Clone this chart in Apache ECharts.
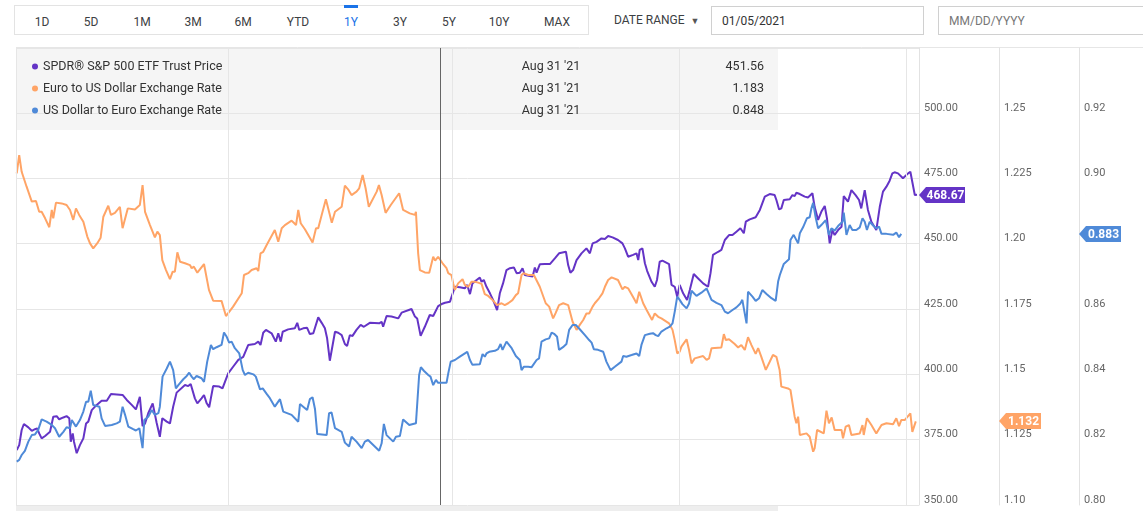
<!DOCTYPE html>
<html>
<head>
<meta charset="utf-8">
<title>SPY vs EUR/USD</title>
<script src="https://cdn.jsdelivr.net/npm/echarts/dist/echarts.min.js"></script>
<style>
  html, body { margin: 0; padding: 0; background: #fff; }
  body { font-family: Roboto, "Noto Sans", sans-serif; width: 1143px; height: 511px; overflow: hidden; position: relative; }
  #main { position: absolute; left: 0; top: 0; width: 1143px; height: 511px; }
  .bar { position: absolute; left: 14px; top: 5px; width: 575px; height: 30px; border: 1px solid #e3e3e3; box-sizing: border-box; }
  .btn { position: absolute; top: 1px; height: 30px; line-height: 30px; font-size: 12px; color: #3c4043; transform: translateX(-50%); }
  .btn.on { color: #1a73e8; }
  .mark { position: absolute; left: 344px; top: 5px; width: 14px; height: 3px; background: #1a73e8; }
  .range { position: absolute; left: 614px; top: 13px; font-size: 12px; color: #3c4043; }
  .range span { font-size: 9px; margin-left: 6px; color: #555; }
  .input { position: absolute; top: 6px; height: 29px; border: 1px solid #d0d0d0; box-sizing: border-box; font-size: 12px; line-height: 29px; padding-left: 10px; }
</style>
</head>
<body>
<div class="bar" id="bar"></div>
<div class="mark"></div>
<div class="range">DATE RANGE<span>&#9660;</span></div>
<div class="input" style="left:711px;width:213px;color:#333;">01/05/2021</div>
<div class="input" style="left:938px;width:215px;color:#777;">MM/DD/YYYY</div>
<div id="main"></div>
<script>
// range buttons
var rangeLabels = ['1D', '5D', '1M', '3M', '6M', 'YTD', '1Y', '3Y', '5Y', '10Y', 'MAX'];
var rangeCenters = [27, 76, 127, 178, 228, 283, 336, 385, 434, 484, 542];
var activeRange = '1Y';

// chart data: days counted from Jan 5 2021
var startDate = '2021-01-05';
var endDate = '2022-01-06';
var quarterLines = ['2021-01-05', '2021-04-01', '2021-07-01', '2021-10-01', '2022-01-01'];
var crosshairDate = '2021-06-26';

var seriesNames = ['SPDR® S&P 500 ETF Trust Price', 'Euro to US Dollar Exchange Rate', 'US Dollar to Euro Exchange Rate'];
var seriesColors = ['#6434c6', '#ffa466', '#4f8ad8'];
var legendDates = ["Aug 31 '21", "Aug 31 '21", "Aug 31 '21"];
var legendValues = ['451.56', '1.183', '0.848'];
var lastValues = [468.67, 1.132, 0.883];

var spyDays = [0.3, 1.3, 2.3, 3.2, 5.0, 6.4, 7.7, 8.6, 9.4, 10.4, 11.8, 13.8, 14.5, 15.1, 16.5, 17.5, 19.2, 20.5, 21.6, 22.2,
  23.0, 23.5, 24.6, 25.9, 27.3, 28.4, 29.3, 30.7, 32.7, 34.7, 36.8, 38.5, 43.2, 44.9, 46.9, 48.6, 50.2, 51.3, 52.3, 53.6,
  55.4, 57.0, 58.3, 59.3, 61.1, 62.4, 63.7, 65.1, 68.5, 69.8, 70.8, 71.6, 72.5, 73.5, 75.2, 76.2, 77.3, 78.3, 79.9, 82.4,
  83.7, 86.0, 88.0, 90.1, 92.1, 94.1, 96.8, 98.2, 99.1, 100.2, 101.3, 103.6, 104.3, 105.3, 106.3, 107.3, 108.1, 110.3, 113.0, 114.0,
  114.8, 116.4, 118.0, 119.1, 120.5, 122.5, 123.9, 125.2, 126.1, 127.2, 129.3, 130.6, 132.0, 133.3, 134.2, 135.3, 136.4, 138.0, 139.7, 141.0,
  143.4, 147.2, 148.2, 148.8, 150.2, 152.2, 154.9, 156.3, 160.3, 161.7, 162.6, 164.0, 165.7, 167.7, 169.1, 171.1, 172.5, 173.9, 175.9, 177.9,
  179.9, 181.9, 182.9, 184.0, 185.0, 186.7, 188.0, 188.7, 189.6, 190.7, 192.1, 193.4, 195.0, 196.1, 197.4, 198.1, 198.8, 200.2, 201.8, 202.9,
  204.2, 205.3, 206.2, 208.3, 209.4, 210.3, 211.0, 212.3, 214.3, 216.4, 218.4, 220.1, 222.9, 223.8, 224.7, 225.8, 227.2, 229.2, 231.2, 232.6,
  233.7, 235.3, 237.3, 238.7, 240.0, 241.8, 244.0, 245.8, 246.8, 248.1, 250.1, 251.5, 252.2, 252.8, 253.9, 254.9, 255.8, 257.6, 258.9, 259.8,
  260.9, 262.0, 264.7, 265.7, 267.0, 268.0, 269.0, 270.4, 272.0, 273.1, 274.7, 276.5, 278.5, 280.5, 281.5, 282.5, 284.6, 285.9, 287.3, 289.0,
  290.4, 292.0, 293.6, 295.0, 295.8, 297.4, 299.8, 301.5, 303.5, 305.5, 307.5, 308.2, 309.3, 310.2, 311.2, 313.6, 314.7, 315.6, 316.3, 317.7,
  319.7, 321.0, 322.8, 323.7, 325.1, 326.4, 327.8, 328.7, 329.8, 330.9, 331.8, 333.2, 334.6, 335.5, 336.3, 337.2, 338.6, 340.3, 341.7, 342.6,
  344.0, 345.3, 346.7, 348.7, 350.1, 351.4, 352.8, 354.1, 355.2, 356.1, 357.5, 358.2, 359.5, 361.6, 362.5, 363.3, 364.3, 365.2];
var spyPrice = [371.0, 372.9, 378.7, 381.0, 379.7, 378.4, 379.0, 379.3, 377.4, 375.5, 376.4, 378.0, 378.7, 383.8, 384.0, 382.8, 383.5, 384.0, 383.2, 374.2,
  377.4, 374.2, 369.8, 372.9, 375.5, 381.2, 381.9, 386.3, 388.3, 389.9, 389.9, 392.5, 392.1, 390.2, 388.3, 386.6, 391.4, 380.2, 381.2, 385.1,
  388.9, 381.5, 376.1, 383.2, 381.9, 381.2, 387.6, 393.0, 395.9, 395.5, 396.3, 395.9, 390.8, 388.9, 390.8, 392.1, 388.9, 387.4, 395.5, 395.3,
  394.6, 400.4, 402.9, 405.5, 406.7, 411.2, 411.6, 412.5, 411.2, 415.9, 417.0, 415.7, 415.0, 412.5, 415.7, 412.5, 416.3, 417.2, 417.6, 419.7,
  417.0, 417.6, 417.8, 415.4, 415.7, 421.8, 419.7, 417.6, 413.8, 405.2, 416.3, 415.9, 415.0, 411.6, 410.8, 415.0, 414.7, 417.0, 418.9, 418.2,
  419.7, 419.5, 420.1, 418.2, 422.3, 422.1, 421.4, 423.6, 425.0, 422.1, 421.4, 414.7, 418.2, 422.7, 422.3, 426.1, 426.9, 427.4, 427.8, 433.5,
  433.3, 432.9, 434.2, 430.7, 434.8, 436.1, 437.0, 435.4, 436.1, 433.5, 431.0, 428.4, 424.6, 431.0, 434.8, 435.1, 439.9, 440.6, 440.9, 438.7,
  438.9, 440.6, 438.0, 437.6, 437.4, 440.9, 438.9, 442.1, 442.2, 442.2, 444.4, 446.3, 446.9, 441.8, 438.9, 439.9, 443.7, 446.3, 448.2, 446.3,
  450.1, 450.7, 452.0, 451.8, 452.9, 452.4, 451.4, 450.1, 448.2, 445.0, 445.7, 446.3, 443.7, 447.6, 448.2, 442.5, 439.6, 435.4, 433.5, 436.1,
  443.1, 443.5, 442.2, 434.2, 433.5, 429.7, 434.2, 431.0, 428.4, 432.3, 438.4, 436.7, 434.8, 433.5, 438.7, 445.7, 446.9, 447.6, 451.4, 453.3,
  453.3, 454.6, 455.9, 454.0, 458.4, 459.3, 460.1, 462.9, 468.0, 469.0, 468.6, 466.7, 463.1, 463.5, 466.7, 467.0, 468.6, 468.2, 469.5, 469.0,
  468.0, 467.7, 469.3, 464.1, 459.1, 462.2, 464.4, 459.7, 450.1, 455.2, 453.3, 455.2, 456.5, 468.2, 468.6, 466.1, 470.5, 468.6, 466.7, 463.5,
  470.5, 462.9, 458.4, 455.2, 464.1, 469.9, 471.8, 474.1, 476.9, 477.3, 476.9, 477.2, 475.0, 476.9, 477.5, 476.9, 468.6, 468.67];

var eurDays = [0.3, 1.3, 2.3, 4.3, 6.4, 8.1, 9.4, 10.4, 11.8, 13.5, 14.5, 15.1, 16.2, 18.5, 20.5, 21.9, 23.2, 24.3, 25.6, 27.3,
  28.9, 30.0, 31.3, 32.9, 34.3, 35.4, 37.4, 38.5, 40.1, 42.1, 43.2, 45.3, 48.2, 50.2, 51.3, 52.3, 54.3, 56.3, 57.3, 58.3,
  59.3, 60.8, 62.4, 63.5, 64.4, 65.4, 66.5, 68.5, 70.5, 71.2, 72.1, 73.5, 76.2, 78.2, 79.9, 83.3, 85.1, 88.0, 91.5, 92.4,
  94.1, 95.5, 97.5, 98.2, 99.1, 100.2, 101.6, 104.9, 106.3, 107.7, 109.0, 111.7, 112.6, 113.5, 114.4, 115.4, 117.1, 118.8, 120.2, 121.6,
  122.5, 123.9, 125.6, 126.3, 128.0, 129.3, 132.0, 133.3, 134.6, 136.0, 138.0, 139.1, 140.5, 141.7, 143.0, 146.2, 147.1, 148.2, 148.8, 149.8,
  151.9, 155.3, 156.9, 159.6, 161.7, 162.1, 163.0, 163.7, 165.7, 167.5, 168.0, 169.1, 169.9, 171.1, 172.9, 174.5, 175.2, 176.5, 177.2, 177.9,
  179.2, 181.0, 181.9, 183.3, 184.6, 186.0, 187.3, 188.7, 190.0, 191.4, 193.4, 195.0, 196.8, 198.1, 199.5, 201.2, 202.6, 203.5, 204.9, 205.8,
  207.6, 209.9, 212.3, 214.7, 216.1, 217.7, 218.8, 220.1, 221.8, 223.8, 225.6, 227.2, 228.5, 229.9, 231.2, 232.3, 233.7, 234.6, 236.3, 237.7,
  238.7, 240.0, 241.4, 244.0, 245.8, 246.8, 248.1, 250.8, 251.5, 252.6, 253.2, 254.2, 255.6, 257.8, 258.9, 260.3, 261.6, 264.7, 266.1, 267.0,
  268.0, 269.0, 269.7, 271.8, 272.8, 273.8, 275.1, 278.5, 279.9, 280.9, 281.9, 285.9, 286.9, 287.7, 289.0, 291.3, 292.7, 294.0, 295.4, 296.7,
  298.1, 299.8, 300.8, 302.1, 303.9, 305.5, 306.8, 308.2, 309.5, 310.2, 312.9, 313.9, 315.6, 316.3, 317.0, 317.7, 320.4, 321.7, 323.1, 323.7,
  324.7, 327.4, 328.5, 329.5, 330.6, 331.8, 334.6, 335.2, 336.3, 337.6, 338.6, 342.0, 343.1, 343.6, 344.9, 346.7, 348.7, 350.8, 352.8, 355.5,
  356.8, 357.9, 358.8, 360.2, 362.5, 363.3, 364.7];
var eurRate = [1.2269, 1.2339, 1.2275, 1.2218, 1.2161, 1.2163, 1.2122, 1.2122, 1.2097, 1.2063, 1.2129, 1.2097, 1.2157, 1.2154, 1.2148, 1.2129, 1.2091, 1.2135, 1.2110, 1.2084,
  1.2027, 1.2001, 1.1982, 1.2001, 1.2023, 1.2103, 1.2145, 1.2110, 1.2118, 1.2141, 1.2059, 1.2135, 1.2131, 1.2148, 1.2224, 1.2122, 1.2071, 1.2024, 1.2046, 1.2033,
  1.1937, 1.1899, 1.1864, 1.1893, 1.1893, 1.1967, 1.1931, 1.1925, 1.1918, 1.1906, 1.1912, 1.1889, 1.1922, 1.1823, 1.1782, 1.1781, 1.1723, 1.1759, 1.1810, 1.1880,
  1.1887, 1.1899, 1.1906, 1.1895, 1.1963, 1.1969, 1.1995, 1.2052, 1.2007, 1.2059, 1.2071, 1.2088, 1.2080, 1.2071, 1.2129, 1.2078, 1.2055, 1.2027, 1.2004, 1.2059,
  1.2059, 1.2110, 1.2170, 1.2167, 1.2080, 1.2122, 1.2141, 1.2222, 1.2208, 1.2186, 1.2199, 1.2212, 1.2263, 1.2212, 1.2141, 1.2199, 1.2224, 1.2186, 1.2186, 1.2118,
  1.2148, 1.2193, 1.2129, 1.2116, 1.2110, 1.2122, 1.1963, 1.1899, 1.1890, 1.1889, 1.1893, 1.1950, 1.1935, 1.1950, 1.1925, 1.1906, 1.1887, 1.1880, 1.1848, 1.1823,
  1.1848, 1.1864, 1.1842, 1.1835, 1.1854, 1.1854, 1.1851, 1.1846, 1.1807, 1.1800, 1.1782, 1.1765, 1.1772, 1.1765, 1.1772, 1.1784, 1.1803, 1.1810, 1.1880, 1.1887,
  1.1880, 1.1880, 1.1835, 1.1772, 1.1759, 1.1714, 1.1736, 1.1765, 1.1772, 1.1765, 1.1701, 1.1670, 1.1689, 1.1708, 1.1733, 1.1733, 1.1759, 1.1772, 1.1791, 1.1810,
  1.1835, 1.1861, 1.1871, 1.1861, 1.1825, 1.1835, 1.1829, 1.1784, 1.1772, 1.1816, 1.1812, 1.1772, 1.1746, 1.1708, 1.1733, 1.1720, 1.1714, 1.1695, 1.1670, 1.1631,
  1.1580, 1.1587, 1.1606, 1.1634, 1.1593, 1.1542, 1.1561, 1.1570, 1.1555, 1.1561, 1.1600, 1.1603, 1.1654, 1.1631, 1.1634, 1.1616, 1.1603, 1.1612, 1.1593, 1.1642,
  1.1612, 1.1578, 1.1600, 1.1567, 1.1517, 1.1548, 1.1574, 1.1567, 1.1517, 1.1453, 1.1446, 1.1440, 1.1338, 1.1313, 1.1338, 1.1268, 1.1274, 1.1261, 1.1204, 1.1217,
  1.1287, 1.1274, 1.1361, 1.1313, 1.1335, 1.1287, 1.1287, 1.1255, 1.1300, 1.1306, 1.1268, 1.1274, 1.1306, 1.1268, 1.1332, 1.1306, 1.1274, 1.1306, 1.1313, 1.1309,
  1.1332, 1.1302, 1.1325, 1.1325, 1.1351, 1.1280, 1.1320];

var usdDays = [0.3, 1.3, 2.3, 3.6, 5.0, 6.4, 7.7, 9.0, 10.4, 12.4, 14.5, 15.8, 17.5, 19.2, 20.5, 21.9, 22.6, 24.3, 25.9, 27.3,
  28.4, 29.3, 30.3, 31.3, 33.8, 34.7, 36.1, 38.8, 40.8, 42.1, 43.2, 44.2, 45.5, 47.5, 48.6, 50.0, 51.3, 52.0, 53.6, 55.0,
  56.3, 57.7, 58.3, 59.4, 61.1, 62.4, 63.7, 64.8, 65.8, 67.8, 69.2, 70.2, 71.2, 72.1, 73.2, 75.2, 76.2, 77.5, 79.0, 79.9,
  81.3, 83.3, 84.3, 85.4, 86.4, 87.4, 88.7, 90.5, 91.9, 92.8, 94.1, 96.2, 97.2, 98.9, 100.0, 101.6, 102.9, 104.9, 107.0, 108.3,
  111.7, 112.4, 114.4, 115.1, 116.4, 118.0, 119.1, 120.2, 121.2, 122.1, 125.9, 126.9, 127.9, 129.3, 132.0, 133.3, 135.0, 136.0, 138.0, 140.1,
  141.4, 142.7, 147.2, 148.2, 149.1, 150.2, 152.9, 154.0, 155.6, 156.9, 159.4, 162.1, 163.4, 164.1, 165.3, 167.1, 168.0, 169.1, 170.2, 171.1,
  172.5, 174.5, 175.2, 176.2, 177.9, 179.9, 182.9, 184.0, 185.0, 188.0, 189.1, 190.0, 190.7, 191.8, 194.1, 195.4, 196.4, 197.2, 198.8, 200.9,
  202.6, 204.2, 204.9, 205.8, 207.6, 209.0, 211.0, 212.0, 213.0, 214.7, 216.1, 217.1, 218.1, 219.3, 220.1, 222.0, 223.1, 224.2, 225.6, 226.9,
  228.5, 230.6, 232.3, 233.3, 234.2, 235.9, 238.0, 239.3, 241.0, 242.7, 245.4, 246.1, 247.4, 249.5, 251.5, 252.6, 253.5, 254.9, 256.9, 258.2,
  259.3, 260.3, 261.6, 263.7, 265.0, 266.1, 267.0, 268.0, 269.0, 270.1, 271.8, 272.8, 273.8, 275.8, 277.8, 279.9, 281.9, 283.9, 285.9, 287.3,
  288.6, 290.4, 292.0, 293.6, 294.4, 295.0, 296.1, 296.7, 298.5, 299.8, 301.2, 302.5, 304.2, 306.2, 307.9, 308.9, 309.6, 311.2, 313.3, 313.9,
  315.2, 316.0, 317.0, 317.7, 319.0, 320.6, 321.7, 322.4, 323.1, 324.1, 325.1, 326.4, 328.2, 329.5, 330.5, 331.8, 333.2, 335.0, 335.5, 336.6,
  337.9, 339.0, 340.6, 342.0, 343.1, 344.0, 344.9, 346.0, 347.6, 348.7, 349.8, 350.8, 352.8, 355.5, 356.8, 357.9, 358.8];
var usdRate = [0.8133, 0.8138, 0.8153, 0.8166, 0.8194, 0.8214, 0.8216, 0.8230, 0.8262, 0.8255, 0.8245, 0.8235, 0.8209, 0.8224, 0.8238, 0.8235, 0.8260, 0.8240, 0.8260, 0.8286,
  0.8316, 0.8316, 0.8350, 0.8306, 0.8301, 0.8265, 0.8242, 0.8245, 0.8250, 0.8255, 0.8301, 0.8276, 0.8240, 0.8232, 0.8228, 0.8235, 0.8174, 0.8260, 0.8270, 0.8291,
  0.8276, 0.8281, 0.8301, 0.8393, 0.8418, 0.8439, 0.8413, 0.8357, 0.8367, 0.8385, 0.8395, 0.8405, 0.8393, 0.8385, 0.8395, 0.8388, 0.8377, 0.8439, 0.8490, 0.8477,
  0.8483, 0.8490, 0.8528, 0.8515, 0.8497, 0.8500, 0.8480, 0.8464, 0.8413, 0.8398, 0.8405, 0.8400, 0.8393, 0.8354, 0.8357, 0.8340, 0.8327, 0.8301, 0.8324, 0.8286,
  0.8276, 0.8279, 0.8255, 0.8309, 0.8301, 0.8291, 0.8324, 0.8330, 0.8293, 0.8217, 0.8214, 0.8281, 0.8283, 0.8235, 0.8224, 0.8191, 0.8179, 0.8209, 0.8194, 0.8174,
  0.8194, 0.8199, 0.8166, 0.8189, 0.8248, 0.8214, 0.8194, 0.8209, 0.8211, 0.8262, 0.8245, 0.8250, 0.8398, 0.8422, 0.8411, 0.8398, 0.8393, 0.8367, 0.8383, 0.8374,
  0.8374, 0.8374, 0.8403, 0.8439, 0.8444, 0.8454, 0.8469, 0.8444, 0.8429, 0.8431, 0.8462, 0.8454, 0.8464, 0.8469, 0.8472, 0.8477, 0.8493, 0.8475, 0.8500, 0.8480,
  0.8456, 0.8444, 0.8413, 0.8423, 0.8423, 0.8422, 0.8444, 0.8449, 0.8500, 0.8507, 0.8510, 0.8528, 0.8524, 0.8515, 0.8475, 0.8485, 0.8493, 0.8536, 0.8551, 0.8551,
  0.8538, 0.8520, 0.8505, 0.8497, 0.8477, 0.8475, 0.8469, 0.8439, 0.8413, 0.8423, 0.8439, 0.8456, 0.8454, 0.8459, 0.8464, 0.8456, 0.8490, 0.8520, 0.8524, 0.8526,
  0.8520, 0.8517, 0.8531, 0.8541, 0.8546, 0.8556, 0.8592, 0.8638, 0.8628, 0.8615, 0.8602, 0.8617, 0.8656, 0.8640, 0.8650, 0.8663, 0.8628, 0.8619, 0.8612, 0.8592,
  0.8587, 0.8597, 0.8605, 0.8617, 0.8628, 0.8602, 0.8556, 0.8653, 0.8638, 0.8625, 0.8633, 0.8658, 0.8646, 0.8633, 0.8625, 0.8684, 0.8704, 0.8738, 0.8752, 0.8811,
  0.8827, 0.8830, 0.8801, 0.8832, 0.8850, 0.8878, 0.8881, 0.8908, 0.8925, 0.8881, 0.8847, 0.8857, 0.8872, 0.8827, 0.8847, 0.8840, 0.8854, 0.8867, 0.8895, 0.8827,
  0.8857, 0.8842, 0.8842, 0.8850, 0.8878, 0.8867, 0.8842, 0.8867, 0.8854, 0.8847, 0.8852, 0.8830, 0.8830, 0.8827, 0.8834, 0.8820, 0.8830];

// right axes: [min, max, interval]
var axisRanges = [[350, 524.87, 25], [1.10, 1.27487, 0.025], [0.80, 0.9399, 0.02]];
var axisTopTick = [500, 1.25, 0.92];

// --- toolbar buttons
var bar = document.getElementById('bar');
rangeLabels.forEach(function (t, i) {
    var s = document.createElement('div');
    s.className = 'btn' + (t === activeRange ? ' on' : '');
    s.style.left = rangeCenters[i] + 'px';
    s.textContent = t;
    bar.appendChild(s);
});

var DAY = 86400000;
var t0 = echarts.time.parse(startDate).getTime();

function toSeries(days, vals) {
    return days.map(function (d, i) { return [t0 + d * DAY, vals[i]]; });
}

function fmt2(v) { return v.toFixed(2); }
function fmtEur(v) {
    var s = v.toFixed(3);
    return s.charAt(s.length - 1) === '0' ? s.slice(0, -1) : s;
}
var formatters = [fmt2, fmtEur, fmt2];

var FONT = 'Roboto, "Noto Sans", sans-serif';

function yAxisCfg(i) {
    var r = axisRanges[i];
    return {
        type: 'value',
        position: 'right',
        offset: i * 80,
        min: r[0],
        max: r[1],
        interval: r[2],
        axisLine: { show: true, lineStyle: { color: '#e2e2e2' } },
        axisTick: { show: false },
        splitLine: { show: i === 0, lineStyle: { color: '#e6e6e6' } },
        axisLabel: {
            margin: 5,
            verticalAlign: 'bottom',
            lineHeight: 10,
            color: '#666',
            fontSize: 11,
            fontFamily: FONT,
            formatter: function (v) {
                if (v > axisTopTick[i] + 1e-9) return '';
                return formatters[i](v);
            }
        }
    };
}

var myChart = echarts.init(document.getElementById('main'));

// legend panel drawn as graphic text
var graphics = [
    { type: 'rect', id: 'panel', z: -10, shape: { x: 16, y: 48, width: 762, height: 82 }, style: { fill: '#f5f5f5' } },
    { type: 'rect', id: 'foot', z: -10, shape: { x: 16, y: 506, width: 762, height: 5 }, style: { fill: '#eeeeee' } },
    { type: 'line', id: 'topline', shape: { x1: 16, y1: 47.5, x2: 1143, y2: 47.5 }, style: { stroke: '#e6e6e6', lineWidth: 1 } }
];
seriesNames.forEach(function (name, i) {
    var y = 66.5 + i * 22;
    graphics.push({ type: 'circle', id: 'dot' + i, shape: { cx: 35, cy: y, r: 3 }, style: { fill: seriesColors[i] } });
    graphics.push({ type: 'text', id: 'name' + i, style: { text: name, x: 43, y: y, font: '12.5px ' + FONT, fill: '#333', textVerticalAlign: 'middle' } });
    graphics.push({ type: 'text', id: 'date' + i, style: { text: legendDates[i], x: 551, y: y, font: '12.5px ' + FONT, fill: '#333', textAlign: 'center', textVerticalAlign: 'middle' } });
    graphics.push({ type: 'text', id: 'val' + i, style: { text: legendValues[i], x: 764, y: y, font: '12.5px ' + FONT, fill: '#333', textAlign: 'right', textVerticalAlign: 'middle' } });
});

var gridMarks = quarterLines.map(function (d) { return { xAxis: d }; });

myChart.setOption({
    animation: false,
    textStyle: { fontFamily: FONT },
    grid: { left: 16, right: 224, top: 48, bottom: 6 },
    xAxis: {
        type: 'time',
        min: startDate,
        max: endDate,
        axisLine: { show: false },
        axisTick: { show: false },
        axisLabel: { show: false },
        splitLine: { show: false }
    },
    yAxis: [yAxisCfg(0), yAxisCfg(1), yAxisCfg(2)],
    series: [
        {
            name: seriesNames[0], type: 'line', yAxisIndex: 0, showSymbol: false,
            lineStyle: { color: seriesColors[0], width: 2 }, itemStyle: { color: seriesColors[0] },
            data: toSeries(spyDays, spyPrice),
            markLine: {
                silent: true, symbol: 'none', label: { show: false }, animation: false,
                lineStyle: { color: '#e6e6e6', width: 1, type: 'solid' },
                data: gridMarks.concat([{ xAxis: crosshairDate, lineStyle: { color: '#666', width: 1 } }])
            },
            z: 3
        },
        {
            name: seriesNames[1], type: 'line', yAxisIndex: 1, showSymbol: false,
            lineStyle: { color: seriesColors[1], width: 2 }, itemStyle: { color: seriesColors[1] },
            data: toSeries(eurDays, eurRate), z: 4
        },
        {
            name: seriesNames[2], type: 'line', yAxisIndex: 2, showSymbol: false,
            lineStyle: { color: seriesColors[2], width: 2 }, itemStyle: { color: seriesColors[2] },
            data: toSeries(usdDays, usdRate), z: 5
        }
    ]
});

// last-value tags on each right axis, placed through the axis scales
var tagWidths = [46, 42, 42];
var tagTexts = ['468.67', '1.132', '0.883'];
var axisX = 1143 - 224;
lastValues.forEach(function (v, i) {
    var y = Math.round(myChart.convertToPixel({ yAxisIndex: i }, v));
    var x = axisX + i * 80;
    var w = tagWidths[i];
    graphics.push({
        type: 'polygon', id: 'tagbg' + i, z: 100,
        shape: { points: [[x, y], [x + 7, y - 8], [x + w, y - 8], [x + w, y + 8], [x + 7, y + 8]] },
        style: { fill: seriesColors[i] }
    });
    graphics.push({
        type: 'text', id: 'tagtx' + i, z: 101,
        style: { text: tagTexts[i], x: x + 7 + (w - 7) / 2, y: y + 0.5, font: 'bold 12px ' + FONT, fill: '#fff', textAlign: 'center', textVerticalAlign: 'middle' }
    });
});
myChart.setOption({ graphic: graphics });
</script>
</body>
</html>
